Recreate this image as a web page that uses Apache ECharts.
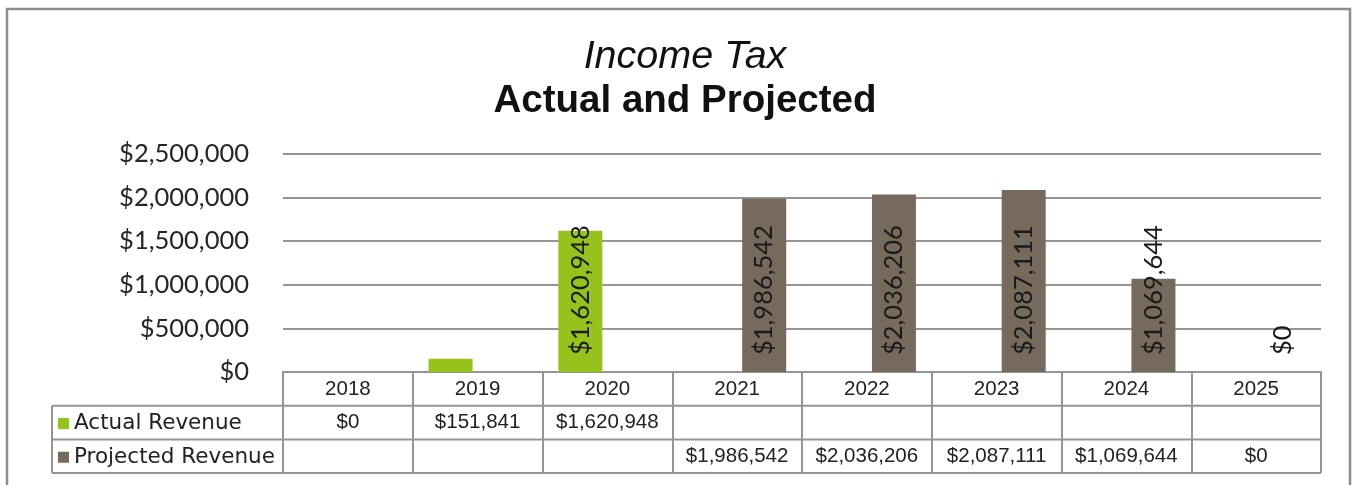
<!DOCTYPE html>
<html>
<head>
<meta charset="utf-8">
<title>Income Tax – Actual and Projected</title>
<script src="https://cdn.jsdelivr.net/npm/echarts@6/dist/echarts.min.js"></script>
<style>
  html, body { margin: 0; padding: 0; background: #ffffff; }
  #chart { width: 1354px; height: 485px; }
</style>
</head>
<body>
<div id="chart"></div>
<script>
// Fiscal years shown along the category axis and in the table header row
const years = ['2018', '2019', '2020', '2021', '2022', '2023', '2024', '2025'];

// Income tax revenue, dollars (null = no value for that year)
const actualRevenue    = [0, 151841, 1620948, null, null, null, null, null];
const projectedRevenue = [null, null, null, 1986542, 2036206, 2087111, 1069644, 0];

// Which bars carry a value label on the plot
const actualLabelled    = [false, false, true, false, false, false, false, false];
const projectedLabelled = [false, false, false, true, true, true, true, true];

const seriesNames = ['Actual Revenue', 'Projected Revenue'];

// Value axis scale
const yMin = 0;
const yMax = 2500000;
const yStep = 500000;

const GREEN = '#96c21c';
const TAUPE = '#756a5c';
const LINE = '#959595';

const fmtMoney = v => (v === null || v === undefined) ? '' : '$' + Number(v).toLocaleString('en-US');

// Plot area and data-table geometry
const W = 1354, H = 485;
const gridLeft = 283, gridRight = 33, gridTop = 154, axisY = 372;
const rowH = 33.7;
const tableLeft = 52;

function withLabels(values, flags) {
  return values.map((v, i) => ({ value: v, label: { show: flags[i] && v !== null } }));
}

const numFont = "'Liberation Sans', Arial, sans-serif";
const numSize = 20.5;

function tableAxis(values, rowIndex) {
  return {
    type: 'category',
    data: years,
    position: 'bottom',
    gridIndex: 0,
    axisLine: { show: false },
    axisTick: { show: false },
    splitLine: { show: false },
    axisLabel: {
      interval: 0,
      margin: rowH * rowIndex + rowH / 2,
      verticalAlign: 'middle',
      fontFamily: numFont,
      fontSize: numSize,
      color: '#222222',
      formatter: (val, idx) => fmtMoney(values[idx])
    }
  };
}

const barLabel = {
  position: 'insideBottom', distance: 17, rotate: 90,
  align: 'left', verticalAlign: 'middle',
  fontFamily: 'Lato, sans-serif', fontSize: 25.5, color: '#1a1a1a',
  formatter: p => fmtMoney(p.value)
};

const chart = echarts.init(document.getElementById('chart'), null, { renderer: 'canvas' });

const option = {
  backgroundColor: '#ffffff',
  animation: false,
  title: [
    {
      text: 'Income Tax',
      left: 680, textAlign: 'center', top: 32,
      textStyle: { fontFamily: "'Liberation Sans', Arial, sans-serif", fontStyle: 'italic', fontWeight: 'normal', fontSize: 39.5, color: '#111111' }
    },
    {
      text: 'Actual and Projected',
      left: 680, textAlign: 'center', top: 77,
      textStyle: { fontFamily: "'Liberation Sans', Arial, sans-serif", fontWeight: 'bold', fontSize: 38.5, color: '#111111' }
    }
  ],
  legend: {
    data: seriesNames,
    orient: 'vertical',
    left: 58,
    top: axisY + rowH + rowH / 2 - 10,
    padding: 0,
    icon: 'rect',
    itemWidth: 11,
    itemHeight: 11,
    itemGap: rowH - 22,
    selectedMode: false,
    textStyle: { fontFamily: 'DejaVu Sans', fontSize: 21.5, lineHeight: 22, color: '#222222' }
  },
  grid: {
    left: gridLeft, right: gridRight, top: gridTop, bottom: H - axisY,
    containLabel: false,
    outerBoundsMode: 'none'
  },
  xAxis: [
    {
      type: 'category',
      data: years,
      position: 'bottom',
      axisLine: { show: true, lineStyle: { color: LINE, width: 2 } },
      axisTick: { show: true, length: rowH * 3, lineStyle: { color: LINE, width: 2 } },
      splitLine: { show: false },
      axisLabel: {
        interval: 0,
        margin: rowH / 2,
        verticalAlign: 'middle',
        fontFamily: numFont,
        fontSize: numSize,
        color: '#222222'
      }
    },
    tableAxis(actualRevenue, 1),
    tableAxis(projectedRevenue, 2)
  ],
  yAxis: {
    type: 'value',
    min: yMin, max: yMax, interval: yStep,
    axisLine: { show: false },
    axisTick: { show: false },
    splitLine: { show: true, lineStyle: { color: LINE, width: 2 } },
    axisLabel: {
      margin: 34,
      fontFamily: 'Lato, sans-serif',
      fontSize: 25.5,
      color: '#262626',
      formatter: v => fmtMoney(v)
    }
  },
  series: [
    {
      name: seriesNames[0],
      type: 'bar',
      xAxisIndex: 0,
      barWidth: 44,
      barGap: '23%',
      itemStyle: { color: GREEN },
      label: barLabel,
      data: withLabels(actualRevenue, actualLabelled)
    },
    {
      name: seriesNames[1],
      type: 'bar',
      xAxisIndex: 0,
      barWidth: 44,
      barGap: '23%',
      itemStyle: { color: TAUPE },
      label: barLabel,
      data: withLabels(projectedRevenue, projectedLabelled)
    }
  ],
  graphic: [
    // outer chart frame
    {
      type: 'rect', silent: true,
      shape: { x: 7, y: 9, width: 1343, height: 520 },
      style: { fill: null, stroke: '#8c8c8c', lineWidth: 2.5 }
    },
    // data-table row rules and the left edge of the series-name column
    ...[1, 2, 3].map(r => ({
      type: 'line', silent: true,
      shape: { x1: tableLeft, y1: axisY + rowH * r, x2: W - gridRight, y2: axisY + rowH * r },
      style: { stroke: LINE, lineWidth: 2 }
    })),
    {
      type: 'line', silent: true,
      shape: { x1: tableLeft, y1: axisY + rowH, x2: tableLeft, y2: axisY + rowH * 3 },
      style: { stroke: LINE, lineWidth: 2 }
    }
  ]
};

chart.setOption(option);
</script>
</body>
</html>
